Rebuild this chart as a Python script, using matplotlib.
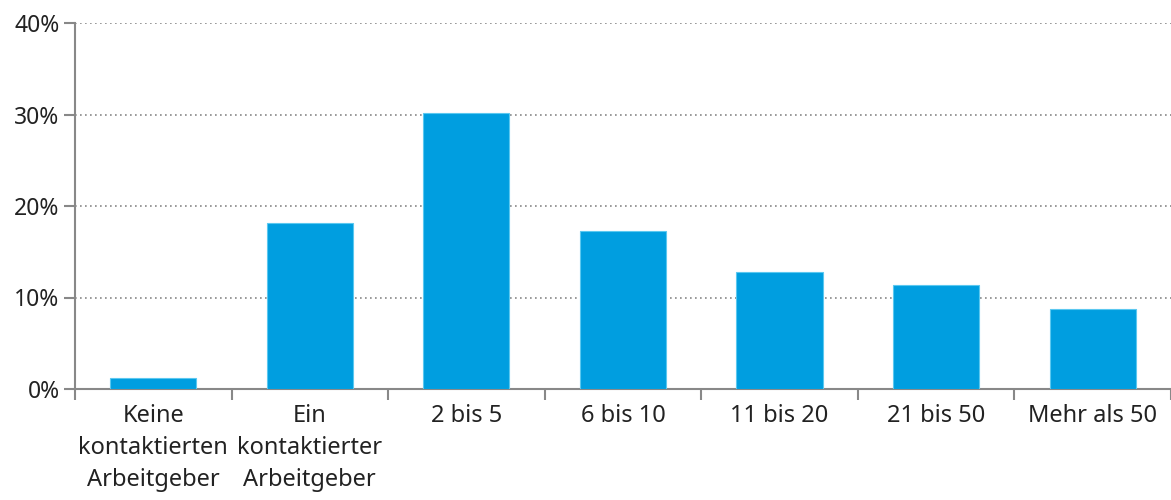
import matplotlib
matplotlib.use("Agg")
import matplotlib.pyplot as plt
import numpy as np

plt.rcParams['font.family'] = ['Noto Sans', 'DejaVu Sans']

kategorien = ["Keine\nkontaktierten\nArbeitgeber", "Ein\nkontaktierter\nArbeitgeber",
              "2 bis 5", "6 bis 10", "11 bis 20", "21 bis 50", "Mehr als 50"]
anteile = [1.2, 18.1, 30.2, 17.3, 12.8, 11.4, 8.7]
y_ticks = [0, 10, 20, 30, 40]
y_labels = ["0%", "10%", "20%", "30%", "40%"]

fig = plt.figure(figsize=(11.71, 5), dpi=100)
ax = fig.add_axes([0.064, 0.222, 0.936, 0.732])

x = np.arange(len(kategorien))
ax.bar(x, anteile, width=0.55, color="#009EE0", edgecolor="#5BC8F0", linewidth=0.8, zorder=3)

ax.set_xlim(-0.5, len(kategorien) - 0.5)
ax.set_ylim(0, 40)
ax.set_yticks(y_ticks)
ax.set_yticklabels(y_labels, fontsize=16.5, color="#222222")
ax.yaxis.grid(True, linestyle=(0, (1, 2)), color="#888888", linewidth=1.2, zorder=0)

# Striche zwischen den Kategorien, Beschriftung in der Mitte
ax.set_xticks(np.arange(len(kategorien) + 1) - 0.5)
ax.set_xticklabels([])
ax.set_xticks(x, minor=True)
ax.set_xticklabels(kategorien, minor=True, fontsize=17, color="#222222", linespacing=1.43)
ax.tick_params(axis="x", which="minor", length=0, pad=11)
ax.tick_params(axis="x", which="major", length=8, width=1.5, color="#888888")
ax.tick_params(axis="y", length=8, width=1.5, color="#888888", pad=3)

for s in ["top", "right"]:
    ax.spines[s].set_visible(False)
for s in ["left", "bottom"]:
    ax.spines[s].set_color("#888888")
    ax.spines[s].set_linewidth(1.5)

fig.savefig("out.png", dpi=100)
